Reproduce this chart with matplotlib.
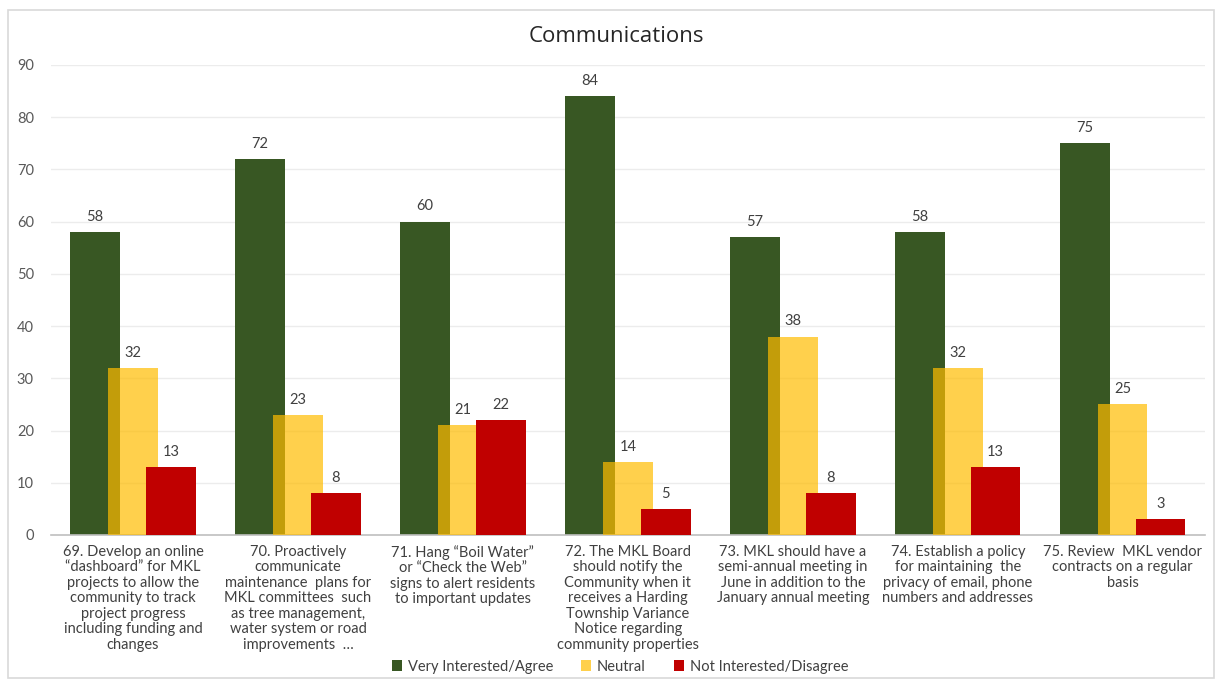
import matplotlib
matplotlib.use("Agg")
import matplotlib.pyplot as plt
from matplotlib.patches import Rectangle
import numpy as np

plt.rcParams['font.family'] = ['Lato', 'DejaVu Sans']

categories = [
    "69. Develop an online\n\u201cdashboard\u201d for MKL\nprojects to allow the\ncommunity to track\nproject progress\nincluding funding and\nchanges",
    "70. Proactively\ncommunicate\nmaintenance  plans for\nMKL committees  such\nas tree management,\nwater system or road\nimprovements  \u2026",
    "71. Hang \u201cBoil Water\u201d\nor \u201cCheck the Web\u201d\nsigns to alert residents\nto important updates",
    "72. The MKL Board\nshould notify the\nCommunity when it\nreceives a Harding\nTownship Variance\nNotice regarding\ncommunity properties",
    "73. MKL should have a\nsemi-annual meeting in\nJune in addition to the\nJanuary annual meeting",
    "74. Establish a policy\nfor maintaining  the\nprivacy of email, phone\nnumbers and addresses",
    "75. Review  MKL vendor\ncontracts on a regular\nbasis",
]
agree = [58, 72, 60, 84, 57, 58, 75]
neutral = [32, 23, 21, 14, 38, 32, 25]
disagree = [13, 8, 22, 5, 8, 13, 3]
series_names = ["Very Interested/Agree", "Neutral", "Not Interested/Disagree"]
y_ticks = [0, 10, 20, 30, 40, 50, 60, 70, 80, 90]

fig = plt.figure(figsize=(12.18, 6.81), dpi=100)
ax = fig.add_axes([0.0415, 0.2144, 0.948, 0.6902])

x = np.arange(len(categories))
w = 0.30
off = 0.23
text_col = "#404040"

b1 = ax.bar(x - off, agree, w, color="#385723", label=series_names[0], zorder=2)
b2 = ax.bar(x, neutral, w, color=(1.0, 188/255, 0.0), alpha=0.7,
            label=series_names[1], zorder=3)
b3 = ax.bar(x + off, disagree, w, color="#C00000", label=series_names[2], zorder=4)

for bars in (b1, b2, b3):
    ax.bar_label(bars, padding=6, fontsize=10.5, color=text_col)

ax.set_xlim(-0.5, len(categories) - 0.5)
ax.set_ylim(0, 90)
ax.set_yticks(y_ticks)
ax.tick_params(axis="y", length=0, labelsize=10.5, colors="#595959", pad=12)
ax.tick_params(axis="x", length=0, pad=7)
ax.set_xticks(x)
ax.set_xticklabels(categories, fontsize=10.5, color=text_col, linespacing=1.14)
ax.grid(axis="y", color="#ececec", linewidth=1, zorder=0)
ax.set_axisbelow(True)
for s in ("top", "right", "left"):
    ax.spines[s].set_visible(False)
ax.spines["bottom"].set_color("#bfbfbf")
ax.spines["bottom"].set_linewidth(1.2)

fig.text(0.506, 0.947, "Communications", ha="center", va="center",
         fontsize=16, color="#262626", family=["Open Sans", "DejaVu Sans"])

handles, labels = ax.get_legend_handles_labels()
fig.legend(handles, labels, loc="center", bbox_to_anchor=(0.509, 0.021),
           ncol=3, frameon=False, fontsize=10.5, handlelength=0.7,
           handleheight=0.7, handletextpad=0.4, columnspacing=1.9,
           labelcolor=text_col)

fig.patches.append(Rectangle((0.0066, 0.004), 0.99, 0.981, transform=fig.transFigure,
                             fill=False, edgecolor="#d9d9d9", linewidth=1.2))

fig.savefig("out.png", dpi=100, facecolor="white")
